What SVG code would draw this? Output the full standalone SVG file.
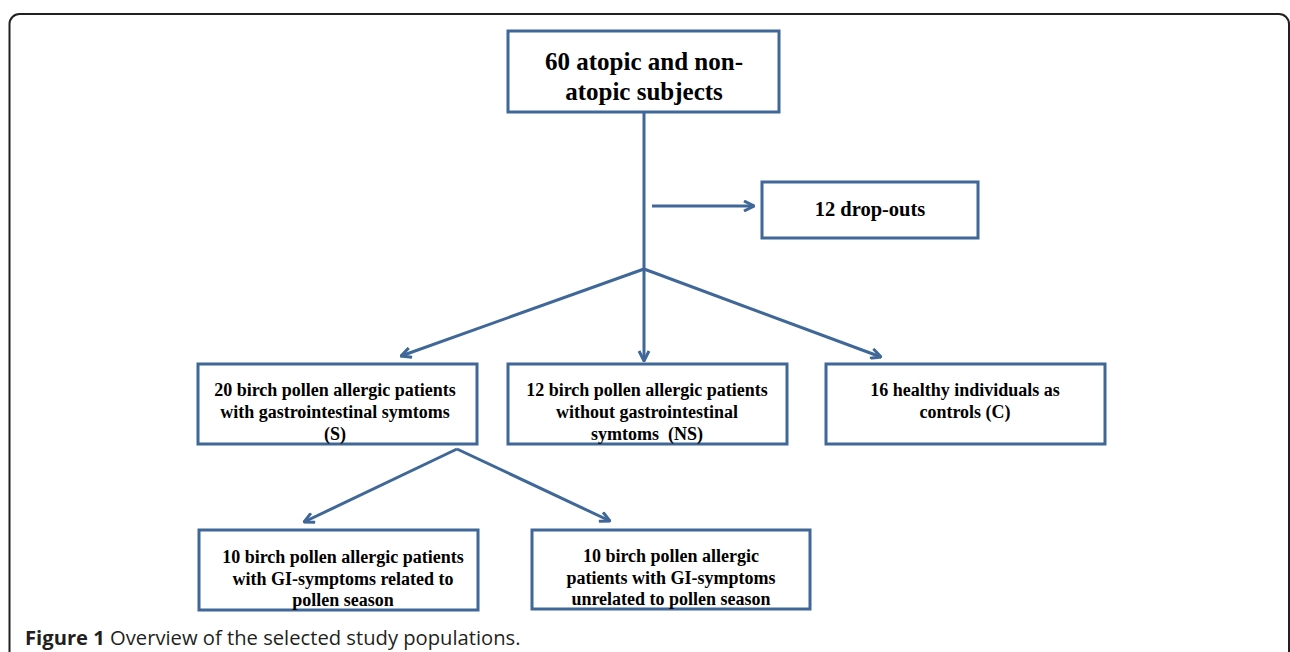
<svg xmlns="http://www.w3.org/2000/svg" width="1290" height="652" viewBox="0 0 1290 652">
<style>
.box{fill:#fff;stroke:#3f6797;stroke-width:3}
.t{font-family:"Liberation Serif","Times New Roman",serif;font-weight:bold;fill:#000;text-anchor:middle}
.s18{font-size:18px}
.conn{fill:none;stroke:#3f6797;stroke-width:3}
.cap{font-family:"Open Sans","Noto Sans",sans-serif;font-size:20.2px;fill:#231f20}
</style>
<defs>
<marker id="ah" viewBox="0 0 12 12" refX="11" refY="6" markerWidth="12" markerHeight="12" markerUnits="userSpaceOnUse" orient="auto">
<path d="M1,1 L11,6 L1,11" fill="none" stroke="#3f6797" stroke-width="3"/>
</marker>
</defs>
<rect width="1290" height="652" fill="#fff"/>
<path d="M9.5,652 V24 A10,10 0 0 1 19.5,14 H1279 A10,10 0 0 1 1289,24 V652" fill="none" stroke="#231f20" stroke-width="2"/>
<g id="connectors">
<path class="conn" d="M644,112 V269"/>
<path class="conn" d="M644,269 V361" marker-end="url(#ah)"/>
<path class="conn" d="M644,269 L401,356" marker-end="url(#ah)"/>
<path class="conn" d="M644,269 L881,357" marker-end="url(#ah)"/>
<path class="conn" d="M652,206 H754" marker-end="url(#ah)"/>
<path class="conn" d="M457,449 L304,522" marker-end="url(#ah)"/>
<path class="conn" d="M457,449 L610,521" marker-end="url(#ah)"/>
</g>
<g id="n-all">
<rect class="box" x="508" y="31" width="271" height="81"/>
<text class="t" x="644" y="70" font-size="25">60 atopic and non-</text>
<text class="t" x="644" y="100" font-size="25">atopic subjects</text>
</g>
<g id="n-drop">
<rect class="box" x="762" y="182" width="216" height="56"/>
<text class="t" x="870" y="216" font-size="20.5">12 drop-outs</text>
</g>
<g id="n-s">
<rect class="box" x="198" y="364" width="279" height="80"/>
<text class="t s18" x="335" y="396">20 birch pollen allergic patients</text>
<text class="t s18" x="335" y="418">with gastrointestinal symtoms</text>
<text class="t s18" x="335" y="440">(S)</text>
</g>
<g id="n-ns">
<rect class="box" x="508" y="364" width="279" height="80"/>
<text class="t s18" x="647" y="396">12 birch pollen allergic patients</text>
<text class="t s18" x="647" y="418">without gastrointestinal</text>
<text class="t s18" x="647" y="440" xml:space="preserve">symtoms  (NS)</text>
</g>
<g id="n-c">
<rect class="box" x="826" y="364" width="279" height="80"/>
<text class="t s18" x="965" y="396">16 healthy individuals as</text>
<text class="t s18" x="965" y="418">controls (C)</text>
</g>
<g id="n-rel">
<rect class="box" x="199" y="530" width="279" height="80"/>
<text class="t s18" x="343" y="563">10 birch pollen allergic patients</text>
<text class="t s18" x="343" y="585">with GI-symptoms related to</text>
<text class="t s18" x="343" y="606">pollen season</text>
</g>
<g id="n-unrel">
<rect class="box" x="532" y="530" width="278" height="79"/>
<text class="t s18" x="671" y="562">10 birch pollen allergic</text>
<text class="t s18" x="671" y="584">patients with GI-symptoms</text>
<text class="t s18" x="671" y="605">unrelated to pollen season</text>
</g>
<text class="cap" x="25" y="645"><tspan font-weight="bold">Figure 1</tspan> Overview of the selected study populations.</text>
</svg>
